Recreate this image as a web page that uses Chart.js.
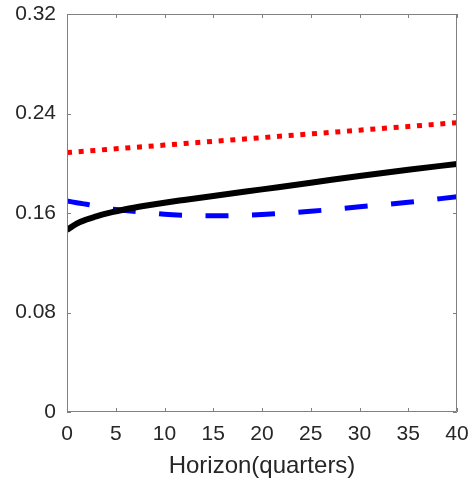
<!DOCTYPE html>
<html>
<head>
<meta charset="utf-8">
<script src="https://cdn.jsdelivr.net/npm/chart.js@4/dist/chart.umd.min.js"></script>
<style>
  html, body { margin: 0; padding: 0; background: #fff; }
  #wrap { width: 474px; height: 485px; }
</style>
</head>
<body>
<div id="wrap"><canvas id="chart"></canvas></div>
<script>
const horizon = [0, 1, 2, 3, 4, 5, 6, 8, 10, 12, 15, 20, 25, 30, 35, 40];
const solidBlack = [0.1463, 0.1515, 0.1548, 0.1572, 0.1595, 0.1613, 0.163, 0.1658, 0.1683, 0.1705, 0.1737, 0.179, 0.1843, 0.1898, 0.1948, 0.1994];
const dottedRed = [0.2086, 0.2092, 0.2098, 0.2104, 0.211, 0.2116, 0.2122, 0.2134, 0.2146, 0.2158, 0.2176, 0.2206, 0.2236, 0.2266, 0.2296, 0.2326];
const dashedBlue = [0.1696, 0.1683, 0.167, 0.1655, 0.164, 0.1628, 0.162, 0.1605, 0.159, 0.1582, 0.1577, 0.1588, 0.1614, 0.165, 0.1686, 0.1731];
const xTicks = [0, 5, 10, 15, 20, 25, 30, 35, 40];
const yTicks = [0, 0.08, 0.16, 0.24, 0.32];
const yTickLabels = ["0", "0.08", "0.16", "0.24", "0.32"];

const textColor = "#262626";
const axisColor = "#808080";
const fontFamily = "'Liberation Sans', Arial, Helvetica, sans-serif";

function toPoints(ys) {
  return horizon.map((h, i) => ({ x: h, y: ys[i] }));
}

// box around the plot plus inward tick marks (matlab style)
const boxTicks = {
  id: "boxTicks",
  afterDatasetsDraw(chart) {
    const { ctx, chartArea: a, scales } = chart;
    ctx.save();
    ctx.strokeStyle = axisColor;
    ctx.lineWidth = 1;
    ctx.beginPath();
    ctx.rect(a.left + 0.5, a.top + 0.5, a.right - a.left - 1, a.bottom - a.top - 1);
    const len = 4;
    xTicks.forEach((t) => {
      const px = Math.round(scales.x.getPixelForValue(t)) + 0.5;
      ctx.moveTo(px, a.bottom);
      ctx.lineTo(px, a.bottom - len);
      ctx.moveTo(px, a.top);
      ctx.lineTo(px, a.top + len);
    });
    yTicks.forEach((t) => {
      const py = Math.round(scales.y.getPixelForValue(t)) + 0.5;
      ctx.moveTo(a.left, py);
      ctx.lineTo(a.left + len, py);
      ctx.moveTo(a.right, py);
      ctx.lineTo(a.right - len, py);
    });
    ctx.stroke();
    ctx.restore();
  },
};

new Chart(document.getElementById("chart"), {
  type: "line",
  data: {
    datasets: [
      {
        data: toPoints(dottedRed),
        borderColor: "#ff0000",
        borderWidth: 5,
        borderDash: [5, 6.7],
        pointRadius: 0,
        tension: 0,
      },
      {
        data: toPoints(solidBlack),
        borderColor: "#000000",
        borderWidth: 6,
        pointRadius: 0,
        cubicInterpolationMode: "monotone",
      },
      {
        data: toPoints(dashedBlue),
        borderColor: "#0000ff",
        borderWidth: 5,
        borderDash: [23, 23.5],
        pointRadius: 0,
        cubicInterpolationMode: "monotone",
      },
    ],
  },
  options: {
    responsive: true,
    maintainAspectRatio: false,
    animation: false,
    layout: { padding: { top: 14, right: 17, left: 0, bottom: 0 } },
    plugins: { legend: { display: false }, tooltip: { enabled: false } },
    scales: {
      x: {
        type: "linear",
        min: 0,
        max: 40,
        afterBuildTicks: (s) => { s.ticks = xTicks.map((v) => ({ value: v })); },
        afterFit: (s) => {
          s.height = 73;
          s.paddingLeft = 0;
          s.paddingRight = 0;
        },
        grid: { display: false, drawTicks: false },
        border: { display: false },
        ticks: {
          color: textColor,
          font: { family: fontFamily, size: 21 },
          padding: 10,
          maxRotation: 0,
        },
        title: {
          display: true,
          text: "Horizon(quarters)",
          color: textColor,
          font: { family: fontFamily, size: 24 },
          padding: { top: 0, bottom: 4 },
        },
      },
      y: {
        min: 0,
        max: 0.32,
        afterBuildTicks: (s) => { s.ticks = yTicks.map((v) => ({ value: v })); },
        afterFit: (s) => {
          s.width = 67;
          s.paddingTop = 0;
          s.paddingBottom = 0;
        },
        grid: { display: false, drawTicks: false },
        border: { display: false },
        ticks: {
          color: textColor,
          font: { family: fontFamily, size: 21 },
          padding: 11,
          callback: (v) => yTickLabels[yTicks.indexOf(v)] ?? "",
        },
      },
    },
  },
  plugins: [boxTicks],
});
</script>
</body>
</html>
